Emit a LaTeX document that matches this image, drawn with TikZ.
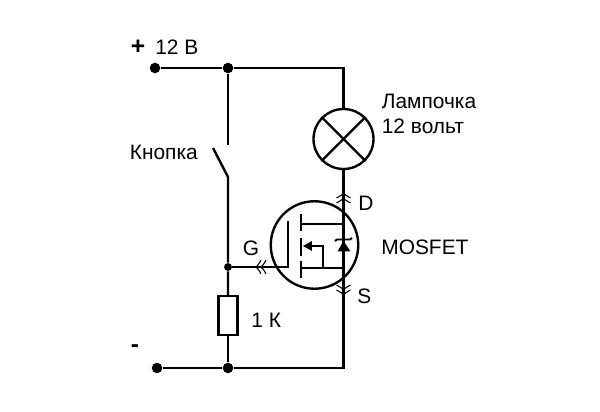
\documentclass[tikz,border=0pt]{standalone}
\usepackage{fontspec}
\setmainfont{Liberation Sans}
\usetikzlibrary{calc}
\tikzset{
	wire/.style={line width=1.35pt},
	thin wire/.style={line width=1.1pt},
	dot/.style={circle,fill=black,inner sep=0pt,minimum size=6pt},
	lbl/.style={inner sep=0pt,font=\fontsize{11.9}{14}\selectfont},
	sign/.style={inner sep=0pt,font=\fontsize{14}{14}\bfseries\selectfont},
	chevron/.style={line width=0.6pt}
}

\begin{document}
\begin{tikzpicture}[x=0.02cm,y=-0.02cm]
	\useasboundingbox (0,0) rectangle (600,412);
	% rails and junctions
	\node[dot] (plus) at (155,68) {};
	\node[dot] (jtop) at (228,68) {};
	\node[dot] (minus) at (157,368) {};
	\node[dot] (jbot) at (228,368) {};
	\node[dot,minimum size=4.5pt] (jgate) at (228,267) {};
	\coordinate (cornertop) at (343.5,68);
	\coordinate (cornerbot) at (343.5,368);
	% lamp, fet and resistor
	\node[draw,circle,wire,inner sep=0pt,minimum size=1.2cm] (lamp) at (343.5,139) {};
	\node[draw,circle,wire,inner sep=0pt,minimum size=1.75cm] (fet) at (314.5,245) {};
	\node[draw,rectangle,wire,inner sep=0pt,minimum width=0.38cm,minimum height=0.78cm] (res) at (228,315.5) {};
	\draw[wire] (plus) -- (jtop) -- (cornertop) -- (lamp.north);
	\draw[wire] (minus) -- (jbot) -- (cornerbot) -- (lamp.south);
	\draw[wire] (lamp.45) -- (lamp.225);
	\draw[wire] (lamp.135) -- (lamp.315);
	% switch
	\coordinate (swtop) at (228,145);
	\coordinate (swarm) at (213,148);
	\coordinate (swbot) at (228,177);
	\draw[wire] (jtop) -- (swtop);
	\draw[wire] (swarm) -- (swbot) -- (jgate) -- (res.north);
	\draw[wire] (res.south) -- (jbot);
	% gate
	\coordinate (gate) at (288,267);
	\coordinate (gatetop) at (288,221);
	\draw[wire] (jgate) -- (gate) -- (gatetop);
	\draw[wire] (301,214) -- (301,231);
	\draw[wire] (301,238) -- (301,256);
	\draw[wire] (301,261) -- (301,278);
	% drain, source and body
	\draw[thin wire] (301,224) -- (343.5,224);
	\draw[thin wire] (301,268) -- (343.5,268);
	\draw[thin wire] (311,246) -- (323,246) -- (323,268);
	\fill (303,246) -- (312,241) -- (312,251) -- cycle;
	% diode
	\fill (343.5,241) -- (337.5,251.5) -- (350.5,251.5) -- cycle;
	\draw[thin wire] (335,241) -- (337,239.5) -- (350,239.5) -- (352,238);
	% chevrons
	\foreach \y in {195,200}
		\draw[chevron] (336.5,\y+3) .. controls (340,\y+1) and (342,\y) .. (343.5,\y-2) .. controls (345,\y) and (347,\y+1) .. (350.5,\y+3);
	\foreach \y in {288,293}
		\draw[chevron] (336.5,\y-3) .. controls (340,\y-1) and (342,\y) .. (343.5,\y+2) .. controls (345,\y) and (347,\y-1) .. (350.5,\y-3);
	\foreach \x in {258,263}
		\draw[chevron] (\x+3,260) .. controls (\x+1,264) and (\x,265) .. (\x-2,267) .. controls (\x,269) and (\x+1,270) .. (\x+3,274);
	% labels
	\node[sign] (pluslbl) at (138,47) {+};
	\node[lbl,anchor=west] (supply) at (155,47) {12 В};
	\node[sign] (minuslbl) at (135,349) {-};
	\node[lbl,anchor=west] (button) at (129.5,152) {Кнопка};
	\node[lbl,anchor=west] (lamplbl) at (381.5,101) {Лампочка};
	\node[lbl,anchor=west] (volts) at (381.5,126) {12 вольт};
	\node[lbl,anchor=west] (drain) at (358,203) {D};
	\node[lbl,anchor=west] (gatelbl) at (242.5,248) {G};
	\node[lbl,anchor=west] (source) at (357,296) {S};
	\node[lbl,anchor=west] (mosfet) at (381,247) {MOSFET};
	\node[lbl,anchor=west] (reslbl) at (251,320) {1 К};
\end{tikzpicture}
\end{document}
